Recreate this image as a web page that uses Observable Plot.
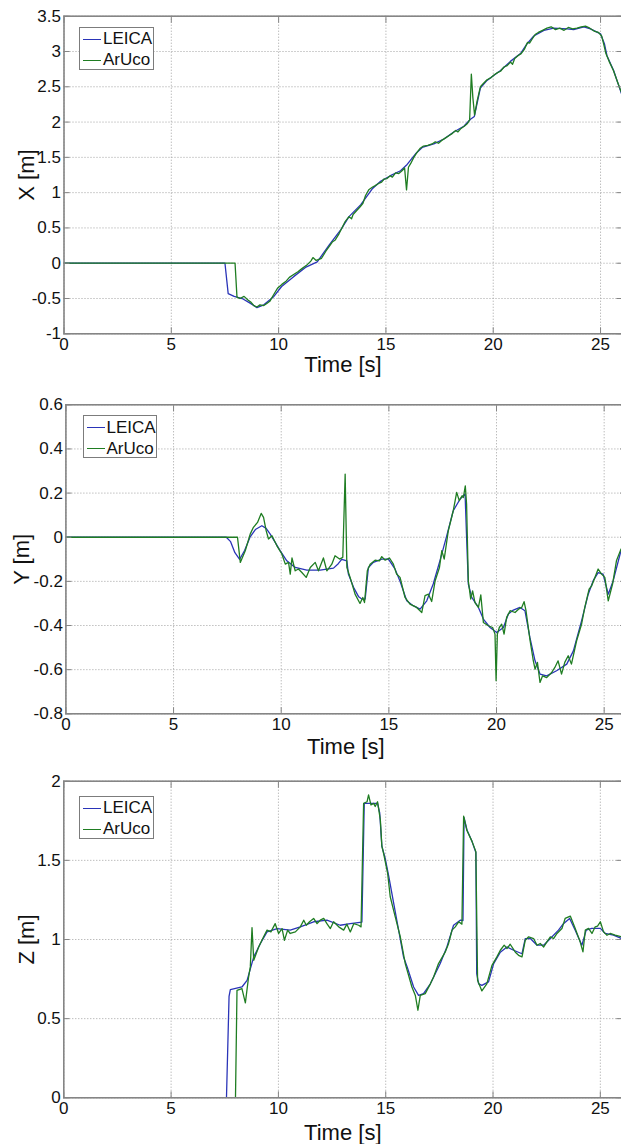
<!DOCTYPE html>
<html>
<head>
<meta charset="utf-8">
<script src="https://cdn.jsdelivr.net/npm/d3@7"></script>
<script src="https://cdn.jsdelivr.net/npm/@observablehq/plot@0.6"></script>
<style>
html, body { margin: 0; padding: 0; background: #fff; overflow: hidden; }
#root { position: relative; width: 621px; height: 1144px; overflow: hidden; font-family: "Liberation Sans", Arial, sans-serif; }
.panel { position: absolute; left: 0; }
.legend { position: absolute; background: #fff; border: 1px solid #7c7c7c; box-sizing: border-box; font-size: 17px; color: #111; }
.legend .row { position: absolute; left: 0; height: 20px; display: flex; align-items: center; white-space: nowrap; }
.legend .sw { display: inline-block; width: 18px; height: 0; border-top: 1.3px solid; margin-left: 3px; margin-right: 2px; }
</style>
</head>
<body>
<div id="root"></div>
<script>
// ---------- data ----------
const seriesNames = ["LEICA", "ArUco"];
const xTicks = [0, 5, 10, 15, 20, 25];
const yTicksX = [-1, -0.5, 0, 0.5, 1, 1.5, 2, 2.5, 3, 3.5];
const yTicksY = [-0.8, -0.6, -0.4, -0.2, 0, 0.2, 0.4, 0.6];
const yTicksZ = [0, 0.5, 1, 1.5, 2];
const axisLabels = ["X [m]", "Y [m]", "Z [m]"];
const timeLabel = "Time [s]";

// [time (s), value (m)]
const leicaX = [[0,0],[7.5,0],[7.65,-0.43],[7.93,-0.47],[8.3,-0.5],[8.67,-0.565],[8.99,-0.63],[9.31,-0.59],[9.78,-0.47],[10.14,-0.33],[10.7,-0.19],[11.25,-0.06],[11.8,0.02],[12.36,0.26],[12.91,0.48],[13.28,0.66],[13.83,0.83],[14.38,1.06],[14.75,1.16],[15.21,1.24],[15.68,1.31],[15.99,1.4],[16.38,1.55],[16.69,1.64],[17.23,1.69],[17.7,1.76],[18.16,1.86],[18.63,1.94],[18.94,2.04],[19.12,2.08],[19.4,2.48],[19.71,2.59],[20.02,2.66],[20.34,2.73],[20.8,2.86],[21.27,2.97],[21.58,3.11],[21.89,3.22],[22.36,3.3],[22.82,3.33],[23.44,3.32],[23.75,3.31],[24.22,3.35],[24.53,3.32],[25.0,3.25],[25.18,3.11],[25.3,2.94],[25.61,2.73],[26,2.38]];
const arucoX = [[0,0],[7.97,0],[8.06,-0.48],[8.2,-0.5],[8.39,-0.47],[8.57,-0.52],[8.7,-0.55],[8.85,-0.6],[8.99,-0.62],[9.13,-0.59],[9.31,-0.6],[9.45,-0.57],[9.59,-0.54],[9.78,-0.44],[9.96,-0.35],[10.15,-0.3],[10.33,-0.26],[10.5,-0.2],[10.7,-0.16],[10.9,-0.12],[11.07,-0.08],[11.3,-0.03],[11.5,0.03],[11.6,0.08],[11.75,0.04],[12.0,0.07],[12.2,0.17],[12.36,0.24],[12.5,0.3],[12.64,0.33],[12.82,0.42],[12.95,0.5],[13.1,0.59],[13.28,0.66],[13.4,0.63],[13.47,0.69],[13.65,0.75],[13.8,0.8],[13.93,0.85],[14.05,0.96],[14.2,1.04],[14.38,1.08],[14.5,1.1],[14.66,1.13],[14.8,1.15],[14.9,1.19],[15.05,1.2],[15.2,1.24],[15.3,1.22],[15.45,1.28],[15.6,1.27],[15.75,1.31],[15.87,1.35],[15.96,1.04],[16.05,1.36],[16.15,1.41],[16.3,1.5],[16.45,1.57],[16.6,1.63],[16.75,1.66],[16.95,1.67],[17.15,1.69],[17.3,1.72],[17.45,1.7],[17.6,1.74],[17.8,1.78],[17.95,1.81],[18.1,1.84],[18.25,1.88],[18.35,1.86],[18.5,1.91],[18.65,1.94],[18.8,1.98],[18.9,2.03],[18.98,2.68],[19.05,2.35],[19.13,2.1],[19.25,2.3],[19.4,2.5],[19.55,2.55],[19.71,2.6],[19.9,2.63],[20.05,2.67],[20.2,2.7],[20.34,2.72],[20.5,2.78],[20.65,2.8],[20.8,2.85],[20.9,2.82],[21.0,2.9],[21.15,2.94],[21.3,2.97],[21.45,3.03],[21.6,3.13],[21.7,3.12],[21.8,3.17],[21.95,3.24],[22.1,3.27],[22.3,3.3],[22.5,3.33],[22.7,3.35],[22.9,3.31],[23.1,3.33],[23.3,3.3],[23.5,3.34],[23.7,3.32],[23.9,3.33],[24.1,3.35],[24.3,3.36],[24.5,3.33],[24.7,3.29],[24.9,3.27],[25.05,3.22],[25.15,3.1],[25.25,2.97],[25.4,2.86],[25.6,2.73],[25.8,2.56],[26,2.4]];

const leicaY = [[0,0],[7.45,0],[7.65,-0.02],[7.85,-0.07],[8.07,-0.1],[8.3,-0.06],[8.55,0.0],[8.8,0.035],[9.1,0.052],[9.3,0.04],[9.49,0.014],[9.7,-0.02],[9.95,-0.061],[10.26,-0.107],[10.65,-0.137],[11.19,-0.149],[11.81,-0.149],[12.43,-0.14],[12.65,-0.12],[12.81,-0.1],[13.05,-0.107],[13.12,-0.167],[13.36,-0.227],[13.6,-0.27],[13.74,-0.28],[13.9,-0.28],[14.05,-0.137],[14.28,-0.114],[14.67,-0.099],[14.98,-0.099],[15.29,-0.145],[15.52,-0.2],[15.83,-0.288],[16.13,-0.31],[16.45,-0.326],[16.76,-0.288],[17.06,-0.212],[17.37,-0.107],[17.69,0.007],[17.99,0.12],[18.31,0.173],[18.54,0.196],[18.61,0.0],[18.69,-0.212],[18.85,-0.273],[19.16,-0.318],[19.39,-0.371],[19.7,-0.409],[20.01,-0.432],[20.32,-0.409],[20.55,-0.348],[20.78,-0.33],[21.09,-0.318],[21.32,-0.333],[21.55,-0.454],[21.79,-0.56],[22.02,-0.62],[22.33,-0.628],[22.79,-0.605],[23.26,-0.575],[23.57,-0.515],[23.95,-0.379],[24.26,-0.258],[24.49,-0.197],[24.72,-0.16],[24.95,-0.167],[25.19,-0.258],[25.42,-0.197],[25.78,-0.061],[26,-0.03]];
const arucoY = [[0,0],[7.97,0],[8.1,-0.114],[8.33,-0.061],[8.56,0.014],[8.71,0.045],[8.9,0.067],[9.07,0.108],[9.18,0.09],[9.3,0.03],[9.41,-0.008],[9.57,0.007],[9.8,-0.039],[10.03,-0.076],[10.19,-0.122],[10.34,-0.114],[10.42,-0.167],[10.5,-0.094],[10.65,-0.152],[10.8,-0.144],[10.96,-0.16],[11.16,-0.182],[11.35,-0.137],[11.58,-0.114],[11.73,-0.152],[11.96,-0.094],[12.12,-0.152],[12.35,-0.122],[12.5,-0.084],[12.71,-0.099],[12.86,-0.091],[12.97,0.286],[13.05,-0.137],[13.2,-0.182],[13.43,-0.258],[13.66,-0.3],[13.79,-0.273],[13.87,-0.296],[14.0,-0.152],[14.13,-0.122],[14.36,-0.104],[14.56,-0.107],[14.67,-0.088],[14.83,-0.104],[15.03,-0.094],[15.21,-0.122],[15.36,-0.167],[15.52,-0.182],[15.75,-0.273],[15.98,-0.303],[16.29,-0.318],[16.53,-0.341],[16.68,-0.265],[16.84,-0.258],[16.99,-0.291],[17.15,-0.197],[17.35,-0.137],[17.46,-0.061],[17.57,-0.099],[17.76,0.029],[17.99,0.12],[18.15,0.203],[18.27,0.166],[18.4,0.188],[18.46,0.18],[18.55,0.233],[18.61,0.15],[18.69,-0.197],[18.8,-0.28],[18.89,-0.243],[19.0,-0.296],[19.16,-0.318],[19.27,-0.261],[19.39,-0.386],[19.62,-0.401],[19.82,-0.409],[19.93,-0.439],[19.98,-0.65],[20.04,-0.439],[20.13,-0.409],[20.24,-0.394],[20.35,-0.439],[20.47,-0.363],[20.63,-0.333],[20.86,-0.341],[21.02,-0.326],[21.17,-0.318],[21.28,-0.292],[21.37,-0.333],[21.56,-0.469],[21.71,-0.56],[21.79,-0.598],[21.9,-0.567],[22.02,-0.658],[22.14,-0.628],[22.33,-0.636],[22.56,-0.613],[22.71,-0.59],[22.86,-0.56],[23.02,-0.62],[23.17,-0.567],[23.33,-0.537],[23.48,-0.575],[23.72,-0.469],[23.95,-0.394],[24.1,-0.318],[24.3,-0.235],[24.42,-0.22],[24.57,-0.182],[24.72,-0.144],[24.88,-0.167],[25.03,-0.182],[25.19,-0.288],[25.39,-0.212],[25.57,-0.107],[25.78,-0.054],[26,-0.03]];

const leicaZ = [[0,0],[7.58,0],[7.7,0.64],[7.76,0.683],[8.3,0.7],[8.54,0.742],[8.85,0.89],[9.16,0.975],[9.47,1.048],[9.94,1.069],[10.55,1.059],[11.02,1.08],[11.64,1.112],[12.26,1.122],[12.88,1.09],[13.35,1.1],[13.89,1.11],[14.0,1.86],[14.62,1.86],[14.72,1.8],[14.82,1.59],[14.98,1.51],[15.14,1.4],[15.37,1.23],[15.6,1.06],[15.83,0.89],[16.0,0.827],[16.3,0.7],[16.53,0.647],[16.76,0.658],[17.08,0.72],[17.54,0.848],[17.85,0.953],[18.16,1.09],[18.47,1.122],[18.6,1.12],[18.65,1.77],[18.79,1.69],[19.02,1.62],[19.2,1.55],[19.24,0.785],[19.33,0.72],[19.48,0.71],[19.79,0.732],[20.03,0.848],[20.34,0.92],[20.65,0.953],[20.96,0.932],[21.35,0.91],[21.5,1.006],[21.74,1.006],[22.05,0.964],[22.36,0.964],[22.67,1.006],[23.05,1.059],[23.28,1.1],[23.57,1.133],[23.83,1.059],[24.14,0.964],[24.34,1.059],[24.6,1.07],[25.0,1.07],[25.23,1.038],[25.61,1.027],[26,1.006]];
const arucoZ = [[0,0],[8.0,0],[8.07,0.679],[8.3,0.69],[8.46,0.6],[8.61,0.763],[8.69,0.827],[8.77,1.075],[8.85,0.869],[9.08,0.953],[9.31,1.017],[9.47,1.059],[9.65,1.048],[9.85,1.1],[10.01,1.038],[10.17,1.069],[10.28,0.995],[10.43,1.059],[10.55,1.038],[10.79,1.048],[11.02,1.08],[11.18,1.122],[11.3,1.09],[11.45,1.112],[11.64,1.133],[11.8,1.1],[11.95,1.122],[12.11,1.133],[12.26,1.1],[12.42,1.069],[12.57,1.112],[12.81,1.08],[13.04,1.059],[13.19,1.097],[13.35,1.048],[13.51,1.1],[13.74,1.09],[13.85,1.08],[13.97,1.86],[14.13,1.87],[14.2,1.913],[14.31,1.85],[14.44,1.86],[14.51,1.84],[14.62,1.87],[14.75,1.755],[14.82,1.59],[14.9,1.544],[15.09,1.418],[15.21,1.27],[15.45,1.14],[15.68,1.017],[15.91,0.848],[16.22,0.7],[16.38,0.647],[16.5,0.553],[16.61,0.647],[16.84,0.658],[17.08,0.72],[17.23,0.763],[17.46,0.848],[17.77,0.92],[17.93,0.975],[18.09,1.059],[18.24,1.08],[18.4,1.112],[18.55,1.097],[18.63,1.78],[18.78,1.69],[19.02,1.62],[19.2,1.555],[19.28,0.742],[19.48,0.675],[19.71,0.72],[19.95,0.837],[20.18,0.89],[20.34,0.932],[20.52,0.964],[20.65,0.943],[20.8,0.97],[21.04,0.92],[21.19,0.9],[21.35,0.89],[21.5,0.995],[21.66,1.017],[21.89,1.006],[22.05,0.964],[22.2,0.975],[22.36,0.953],[22.51,0.985],[22.67,1.017],[22.82,1.006],[22.98,1.038],[23.21,1.069],[23.36,1.133],[23.6,1.148],[23.83,1.069],[24.06,0.985],[24.19,0.922],[24.3,1.059],[24.45,1.07],[24.61,1.038],[24.76,1.08],[24.87,1.084],[25.0,1.112],[25.15,1.048],[25.31,1.027],[25.46,1.038],[25.69,1.027],[26,1.017]];

// ---------- styling ----------
const BLUE = "#2a34b8";
const GREEN = "#1f7d22";
const AXIS = "#858585";
const GRID = "#a0a0a0";
const FONT = '"Liberation Sans", Arial, sans-serif';
const xDomain = [0, 26];

const panels = [
  {leica: leicaX, aruco: arucoX, yDomain: [-1, 3.5], yTicks: yTicksX, label: axisLabels[0],
   top: 0, height: 381, width: 622, mt: 15.7, mb: 47.7, ml: 63.5, labelX: 26, timeDy: 31,
   legend: {left: 79, top: 26.5, width: 75, height: 43}},
  {leica: leicaY, aruco: arucoY, yDomain: [-0.8, 0.6], yTicks: yTicksY, label: axisLabels[1],
   top: 381, height: 381, width: 626, mt: 23.3, mb: 48.7, ml: 65.4, labelX: 21, timeDy: 33.5,
   legend: {left: 82.5, top: 415, width: 74, height: 42.5}},
  {leica: leicaZ, aruco: arucoZ, yDomain: [0, 2], yTicks: yTicksZ, label: axisLabels[2],
   top: 762, height: 382, width: 622, mt: 18.7, mb: 46.7, ml: 63.3, labelX: 26, timeDy: 35,
   legend: {left: 79, top: 795.5, width: 75, height: 43.5}}
];

const root = document.getElementById("root");
const fmt = d => String(d);
const blank = () => "";

for (const p of panels) {
  const chart = Plot.plot({
    width: p.width,
    height: p.height,
    marginLeft: p.ml,
    marginRight: p.width - (p.ml + (p.width === 626 ? 559.8 : 558)),
    marginTop: p.mt,
    marginBottom: p.mb,
    style: {background: "transparent", fontFamily: FONT, maxWidth: "none", overflow: "visible", color: "#111"},
    x: {domain: xDomain},
    y: {domain: p.yDomain},
    marks: [
      Plot.gridX(xTicks, {stroke: GRID, strokeOpacity: 1, strokeWidth: 1, strokeDasharray: "1,2"}),
      Plot.gridY(p.yTicks, {stroke: GRID, strokeOpacity: 1, strokeWidth: 1, strokeDasharray: "1,2"}),
      Plot.line(p.leica, {x: d => d[0], y: d => d[1], stroke: BLUE, strokeWidth: 1.3, clip: true}),
      Plot.line(p.aruco, {x: d => d[0], y: d => d[1], stroke: GREEN, strokeWidth: 1.3, clip: true}),
      Plot.frame({stroke: AXIS, strokeWidth: 1.6}),
      Plot.axisX(xTicks, {anchor: "bottom", tickSize: -6, tickFormat: blank, label: null, stroke: AXIS}),
      Plot.axisX(xTicks, {anchor: "top", tickSize: -6, tickFormat: blank, label: null, stroke: AXIS}),
      Plot.axisY(p.yTicks, {anchor: "left", tickSize: -6, tickFormat: blank, label: null, stroke: AXIS}),
      Plot.axisY(p.yTicks, {anchor: "right", tickSize: -6, tickFormat: blank, label: null, stroke: AXIS}),
      Plot.axisX(xTicks, {anchor: "bottom", tickSize: 0, tickPadding: 4, tickFormat: fmt, label: null, fontSize: 17, fill: "#111"}),
      Plot.axisY(p.yTicks, {anchor: "left", tickSize: 0, tickPadding: 3, tickFormat: fmt, label: null, fontSize: 17, fill: "#111"}),
      Plot.text([timeLabel], {frameAnchor: "bottom", lineAnchor: "middle", dy: p.timeDy, fontSize: 22, fill: "#111"}),
      Plot.text([p.label], {frameAnchor: "left", lineAnchor: "middle", textAnchor: "middle", rotate: -90, dx: p.labelX - p.ml, fontSize: 22, fill: "#111"})
    ]
  });
  const wrap = document.createElement("div");
  wrap.className = "panel";
  wrap.style.top = p.top + "px";
  wrap.appendChild(chart);
  root.appendChild(wrap);

  const lg = document.createElement("div");
  lg.className = "legend";
  Object.assign(lg.style, {left: p.legend.left + "px", top: p.legend.top + "px", width: p.legend.width + "px", height: p.legend.height + "px"});
  const colors = [BLUE, GREEN];
  seriesNames.forEach((name, i) => {
    const row = document.createElement("div");
    row.className = "row";
    row.style.top = (1.5 + i * 21) + "px";
    const sw = document.createElement("span");
    sw.className = "sw";
    sw.style.borderTopColor = colors[i];
    const tx = document.createElement("span");
    tx.textContent = name;
    row.appendChild(sw);
    row.appendChild(tx);
    lg.appendChild(row);
  });
  root.appendChild(lg);
}
</script>
</body>
</html>
